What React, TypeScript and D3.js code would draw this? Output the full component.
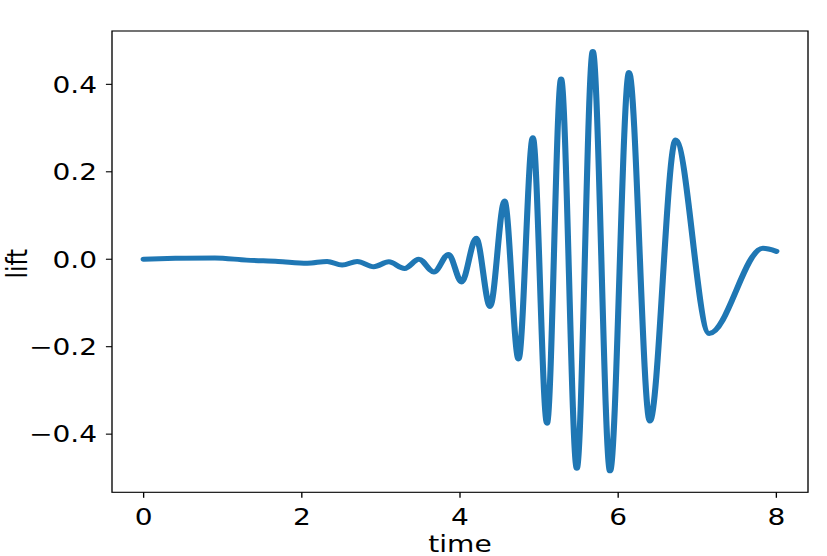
import React, { useRef, useEffect } from 'react';
import * as d3 from 'd3';

// turning points of the lift signal
const times = [
    0, 0.4, 0.9, 1.3, 1.7, 2.07, 2.32, 2.51, 2.7, 2.91, 3.1, 3.3, 3.48, 3.67,
    3.855, 4.02, 4.205, 4.38, 4.563, 4.74, 4.921, 5.1, 5.278, 5.477, 5.679,
    5.897, 6.137, 6.4, 6.727, 7.15, 7.83, 8.0
];
const lift = [
    0, 0.002, 0.003, -0.002, -0.005, -0.009, -0.005, -0.013, -0.005, -0.017,
    -0.006, -0.021, 0.0, -0.029, 0.011, -0.052, 0.048, -0.108, 0.133, -0.228,
    0.278, -0.375, 0.412, -0.478, 0.475, -0.484, 0.427, -0.37, 0.273, -0.17,
    0.025, 0.018
];
const xTicks = [0, 2, 4, 6, 8];
const yTicks = [-0.4, -0.2, 0.0, 0.2, 0.4];

// the reference is stretched sideways, so draw in a narrower box and stretch it
const SX = 1.22;
const W = 827, H = 556;
const VW = W / SX;

const App = () => {
    const chartRef = useRef<SVGSVGElement>(null);

    useEffect(() => {
        const svg = d3.select(chartRef.current);
        svg.selectAll("*").remove();

        const left = 112 / SX, right = 808 / SX, top = 31, bottom = 492.3;
        const font = "DejaVu Sans";
        const fs = 23;

        const x = d3.scaleLinear().domain([-0.4, 8.4]).range([left, right]);
        const y = d3.scaleLinear().domain([-0.533, 0.522]).range([bottom, top]);

        const points = times.map((t, i) => [t, lift[i]] as [number, number]);

        const line = d3.line<[number, number]>()
            .x(d => x(d[0]))
            .y(d => y(d[1]))
            .curve(d3.curveMonotoneX);

        svg.append("path")
            .datum(points)
            .attr("d", line)
            .attr("fill", "none")
            .attr("stroke", "#1f77b4")
            .attr("stroke-width", 5)
            .attr("stroke-linecap", "round")
            .attr("stroke-linejoin", "round");

        // frame
        svg.append("rect")
            .attr("x", left)
            .attr("y", top)
            .attr("width", right - left)
            .attr("height", bottom - top)
            .attr("fill", "none")
            .attr("stroke", "#000")
            .attr("stroke-width", 1.1);

        // x ticks
        const gx = svg.append("g");
        gx.selectAll("line")
            .data(xTicks)
            .enter()
            .append("line")
            .attr("x1", d => x(d))
            .attr("x2", d => x(d))
            .attr("y1", bottom)
            .attr("y2", bottom + 5.5)
            .attr("stroke", "#000")
            .attr("stroke-width", 1.1);
        gx.selectAll("text")
            .data(xTicks)
            .enter()
            .append("text")
            .attr("x", d => x(d))
            .attr("y", 525)
            .attr("text-anchor", "middle")
            .style("font-family", font)
            .style("font-size", fs + "px")
            .text(d => d3.format("d")(d));

        // y ticks
        const gy = svg.append("g");
        gy.selectAll("line")
            .data(yTicks)
            .enter()
            .append("line")
            .attr("x1", left)
            .attr("x2", left - 5)
            .attr("y1", d => y(d))
            .attr("y2", d => y(d))
            .attr("stroke", "#000")
            .attr("stroke-width", 1.1);
        gy.selectAll("text")
            .data(yTicks)
            .enter()
            .append("text")
            .attr("x", 97 / SX)
            .attr("y", d => y(d) + 8.3)
            .attr("text-anchor", "end")
            .style("font-family", font)
            .style("font-size", fs + "px")
            .text(d => d3.format(".1f")(d));

        // axis labels
        svg.append("text")
            .attr("x", (left + right) / 2)
            .attr("y", 552)
            .attr("text-anchor", "middle")
            .style("font-family", font)
            .style("font-size", fs + "px")
            .text("time");

        svg.append("text")
            .attr("transform", `translate(${22.5}, ${(top + bottom) / 2 + 2}) rotate(-90)`)
            .attr("text-anchor", "middle")
            .style("font-family", font)
            .style("font-size", fs + "px")
            .text("lift");
    }, []);

    return (
        <svg
            ref={chartRef}
            width={W}
            height={H}
            viewBox={`0 0 ${VW} ${H}`}
            preserveAspectRatio="none"
            style={{ position: "fixed", left: 0, top: 0, display: "block", background: "#fff" }}
        />
    );
};

export default App;
